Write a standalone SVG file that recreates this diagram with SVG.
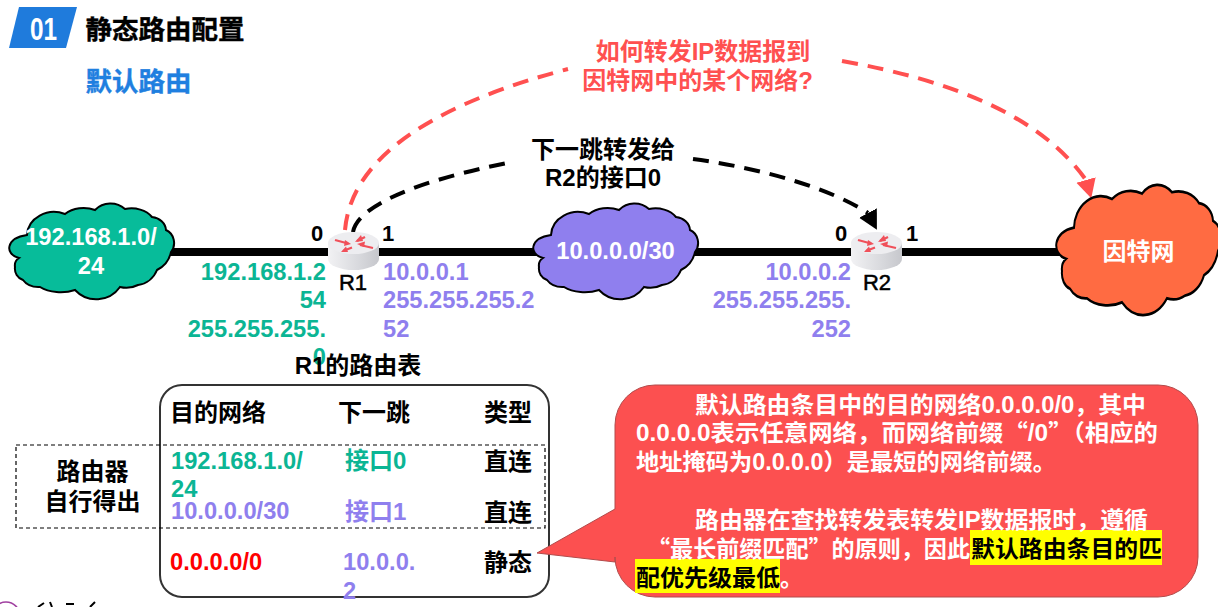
<svg xmlns="http://www.w3.org/2000/svg" xmlns:xlink="http://www.w3.org/1999/xlink" width="1218" height="607" viewBox="0 0 1218 607">
  <style>
    text { font-family: "Liberation Sans", "Noto Sans CJK SC", sans-serif; font-weight: 700; }
    .t24 { font-size: 24px; }
    .ip { font-size: 23.7px; }
    .green { fill: #0BB594; }
    .purple { fill: #8F7FEE; }
    .white { fill: #fff; }
    .red { fill: #FF5050; }
    .note { font-size: 23px; fill: #fff; }
    .ink { fill: #000; }
    .cjk { font-family: "Noto Sans CJK SC", sans-serif; }
    .end { text-anchor: end; }
    .mid { text-anchor: middle; }
    .dev { font-size: 22px; font-weight: 400; stroke: #000; stroke-width: .5; }
    .cloud-line { stroke: #000; stroke-width: 2; vector-effect: non-scaling-stroke; }
    .dash-black { fill: none; stroke: #000; stroke-width: 4; stroke-dasharray: 16 10; }
    .dash-red { fill: none; stroke: #FF5050; stroke-width: 4; stroke-dasharray: 16 10; }
  </style>
  <defs>
    <path id="cloud" d="M27 235 A27 24 0 0 1 65 214 A26 20 0 0 1 95 210 A22 22 0 0 1 125 209 A24 18 0 0 1 152 217 A16 14 0 0 1 166 230 A13 14 0 0 1 171 252 A26 26 0 0 1 157 270 A24 24 0 0 1 138 285 A22 18 0 0 1 120 287 A29 29 0 0 1 75 290 A28 16 0 0 1 40 287 A18 14 0 0 1 23 280 A12 12 0 0 1 15 267 A9 9 0 0 1 19 258 C4 254 6 238 27 235 Z"/>
    <linearGradient id="router-side" x1="0" y1="0" x2="1" y2="0">
      <stop offset="0" stop-color="#F2F2F4"/>
      <stop offset="0.6" stop-color="#D8D9DD"/>
      <stop offset="1" stop-color="#C6C7CC"/>
    </linearGradient>
    <g id="router">
      <path d="M328 243 V259 A25.5 11 0 0 0 379 259 V243 Z" fill="url(#router-side)"/>
      <ellipse cx="353.5" cy="243" rx="25.5" ry="11" fill="#EDEDF0"/>
      <g fill="none" stroke="#F0505A" stroke-width="2.2">
        <path d="M335 240 L348 243.5"/><path d="M352 247.5 L343 251"/>
        <path d="M357 241 L365 237"/><path d="M360 245 L373 248"/>
      </g>
      <g fill="#F0505A">
        <path d="M351 244 L344 246 L345 240 Z"/>
        <path d="M341 252 L346 246.5 L348 252 Z"/>
        <path d="M355 242 L361 235 L363 241 Z"/>
        <path d="M357 244 L365 241.500 L364 247 Z"/>
      </g>
    </g>
    <marker id="head-black" markerUnits="userSpaceOnUse" markerWidth="24" markerHeight="24" refX="0" refY="12" orient="62" viewBox="0 0 24 24">
      <path d="M0 2 L19 12 L0 22 Z" fill="#000"/>
    </marker>
    <marker id="head-red" markerUnits="userSpaceOnUse" markerWidth="24" markerHeight="24" refX="0" refY="12" orient="74" viewBox="0 0 24 24">
      <path d="M0 2 L19 12 L0 22 Z" fill="#FF5050"/>
    </marker>
  </defs>

  <g id="title">
    <path d="M19 7 H77 L66 48 H9 Z" fill="#1F7BDC"/>
    <text x="30" y="40" class="white" font-size="32" textLength="27" lengthAdjust="spacingAndGlyphs">01</text>
    <text x="85.500" y="39" font-size="26.500" stroke="#000" stroke-width=".4">静态路由配置</text>
    <text x="85.500" y="91" font-size="26.500" fill="#1F7FE0" stroke="#1F7FE0" stroke-width=".4">默认路由</text>
  </g>

  <!-- links and forwarding paths -->
  <g id="connectors">
    <path d="M165 252 H1066" fill="none" stroke="#000" stroke-width="8"/>
    <path class="dash-red" d="M345 230 C352 150 450 100 568 69"/>
    <path class="dash-black" d="M353 232 C358 205 420 180 512 162"/>
    <path class="dash-black" d="M693 159 C760 168 830 188 868 213" marker-end="url(#head-black)"/>
    <path class="dash-red" d="M842 61 C950 80 1040 115 1086 180" marker-end="url(#head-red)"/>
  </g>

  <g id="net-lan">
    <use xlink:href="#cloud" href="#cloud" fill="#07BC9A" class="cloud-line"/>
    <text x="91" y="245" class="ip white mid">192.168.1.0/</text>
    <text x="91" y="274" class="ip white mid">24</text>
  </g>
  <g id="net-link">
    <use xlink:href="#cloud" href="#cloud" transform="translate(524 0)" fill="#8F7FEE" class="cloud-line"/>
    <text x="615.500" y="259" class="ip white mid">10.0.0.0/30</text>
  </g>
  <g id="net-internet">
    <use xlink:href="#cloud" href="#cloud" transform="translate(1047 -92) scale(1 1.360)" fill="#FF6B42" class="cloud-line"/>
    <text x="1138.500" y="260" class="white mid" font-size="24">因特网</text>
  </g>

  <g id="r1">
    <use xlink:href="#router" href="#router"/>
    <text x="317" y="241" font-size="22" class="mid">0</text>
    <text x="388" y="241" font-size="22" class="mid">1</text>
    <text x="353" y="290" class="dev mid">R1</text>
    <text x="326" y="280" class="ip green end">192.168.1.2</text>
    <text x="326" y="308" class="ip green end">54</text>
    <text x="326" y="337" class="ip green end">255.255.255.</text>
    <text x="326" y="365" class="ip green end">0</text>
    <text x="383" y="280" class="ip purple">10.0.0.1</text>
    <text x="383" y="308" class="ip purple">255.255.255.2</text>
    <text x="383" y="337" class="ip purple">52</text>
  </g>
  <g id="r2">
    <use xlink:href="#router" href="#router" transform="translate(523 0)"/>
    <text x="841" y="241" font-size="22" class="mid">0</text>
    <text x="912" y="241" font-size="22" class="mid">1</text>
    <text x="877" y="290" class="dev mid">R2</text>
    <text x="851" y="280" class="ip purple end">10.0.0.2</text>
    <text x="851" y="308" class="ip purple end">255.255.255.</text>
    <text x="851" y="337" class="ip purple end">252</text>
  </g>

  <g id="label-question" class="red">
    <text x="703" y="60" class="t24 mid">如何转发IP数据报到</text>
    <text x="697.500" y="89" class="t24 mid">因特网中的某个网络?</text>
  </g>
  <g id="label-next-hop">
    <text x="603" y="158" class="t24 mid">下一跳转发给</text>
    <text x="603" y="186" class="t24 mid">R2的接口0</text>
  </g>

  <g id="route-table">
    <text x="358" y="374" class="t24 mid">R1的路由表</text>
    <rect x="160" y="385" width="389" height="212" rx="22" fill="none" stroke="#333" stroke-width="2"/>
    <text x="170" y="421" class="t24">目的网络</text>
    <text x="338" y="421" class="t24">下一跳</text>
    <text x="484" y="421" class="t24">类型</text>
    <text x="171" y="469" class="ip green">192.168.1.0/</text>
    <text x="171" y="497" class="ip green">24</text>
    <text x="345" y="469" class="t24 green">接口0</text>
    <text x="484" y="470" class="t24">直连</text>
    <text x="171" y="519" class="ip purple">10.0.0.0/30</text>
    <text x="345" y="520" class="t24 purple">接口1</text>
    <text x="484" y="521" class="t24">直连</text>
    <text x="170" y="570" class="ip" fill="#F00">0.0.0.0/0</text>
    <text x="343" y="570" class="ip purple">10.0.0.</text>
    <text x="343" y="599" class="ip purple">2</text>
    <text x="484" y="571" class="t24">静态</text>
  </g>

  <g id="self-learned">
    <rect x="16" y="445" width="529" height="83" fill="none" stroke="#000" stroke-width="1.2" stroke-dasharray="4 3"/>
    <text x="92.500" y="480" class="t24 mid">路由器</text>
    <text x="92.500" y="510" class="t24 mid">自行得出</text>
  </g>

  <g id="note">
    <path d="M655 385 H1158 A40 40 0 0 1 1198 425 V557 A40 40 0 0 1 1158 597 H655 A40 40 0 0 1 615 557 V562 L537 553 L615 509 V425 A40 40 0 0 1 655 385 Z" fill="#FC5050" stroke="#B24B4B" stroke-width="1"/>
    <rect x="970" y="530" width="192" height="35" fill="#FF0"/>
    <rect x="635" y="559" width="145" height="34" fill="#FF0"/>
    <text x="695" y="413" class="note" textLength="451" lengthAdjust="spacingAndGlyphs">默认路由条目中的目的网络0.0.0.0/0，其中</text>
    <text x="636" y="441" class="note" textLength="522" lengthAdjust="spacingAndGlyphs">0.0.0.0表示任意网络，而网络前缀<tspan class="cjk">“</tspan>/0<tspan class="cjk">”（</tspan>相应的</text>
    <text x="636" y="470" class="note" textLength="420" lengthAdjust="spacingAndGlyphs">地址掩码为0.0.0.0）是最短的网络前缀。</text>
    <text x="695" y="528" class="note" textLength="453" lengthAdjust="spacingAndGlyphs">路由器在查找转发表转发IP数据报时，遵循</text>
    <text x="647" y="557" class="note" textLength="323" lengthAdjust="spacingAndGlyphs"><tspan class="cjk">“</tspan>最长前缀匹配<tspan class="cjk">”</tspan>的原则，因此</text>
    <text x="971" y="557" class="note ink" style="fill:#000" textLength="191" lengthAdjust="spacingAndGlyphs">默认路由条目的匹</text>
    <text x="636" y="586" class="note ink" style="fill:#000" textLength="144" lengthAdjust="spacingAndGlyphs">配优先级最低</text>
    <text x="780" y="586" class="note">。</text>
  </g>

  <!-- partly visible item at the lower edge -->
  <g id="lower-edge">
    <circle cx="6" cy="616" r="14" fill="none" stroke="#A040A0" stroke-width="1.5"/>
    <path d="M38 607 L44 603 M52 607 L50 602 M66 604 H74 M90 607 L95 602" fill="none" stroke="#000" stroke-width="2"/>
  </g>
</svg>
